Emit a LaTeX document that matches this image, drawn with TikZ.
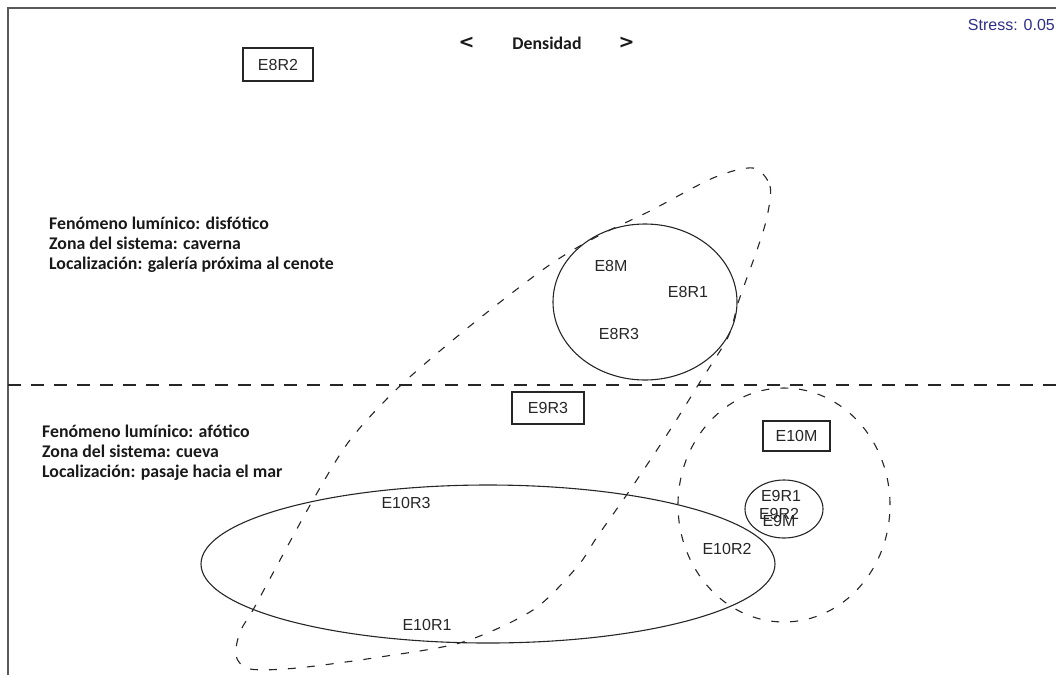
\documentclass[tikz,border=0pt]{standalone}
\usepackage{fontspec}
\setmainfont{Liberation Sans}
\newfontfamily\notefont{Carlito}
\newfontfamily\chevfont{DejaVu Sans}
\begin{document}
\begin{tikzpicture}[x=1pt,y=-1pt,
  ink/.style={draw=black!85},
  lbl/.style={font=\fontsize{16}{19}\selectfont, text=black!85, inner sep=0pt},
  boxlbl/.style={lbl, ink, line width=1.2pt},
  note/.style={font=\notefont\bfseries\fontsize{17.8}{20}\selectfont, text=black!90, anchor=base west, inner sep=0pt},
  chev/.style={font=\chevfont\bfseries\fontsize{19}{20}\selectfont, text=black!90, inner sep=0pt},
  hull/.style={ink, line width=1.1pt},
  dhull/.style={hull, dash pattern=on 8pt off 11pt},
  divider/.style={ink, line width=1.1pt, dash pattern=on 13pt off 10pt}]
\useasboundingbox (0,0) rectangle (1056,675);

% plot frame
\draw[black!65, line width=1.8pt] (8,675) -- (8,8) -- (1056,8);

% axis hint and stress value
\node[note, anchor=base] (dens) at (547,49) {Densidad};
\node[chev] (lt) at (466.5,43) {<};
\node[chev] (gt) at (626.5,43) {>};
\node[lbl, anchor=base east, text={rgb,255:red,45;green,45;blue,140}] (stress) at (1055,30) {Stress: 0.05};

% zone separator
\draw[divider] (8,385) -- (1056,385);

% group notes
\node[note] (z1a) at (49,229) {Fenómeno lumínico: disfótico};
\node[note] (z1b) at (49,249) {Zona del sistema: caverna};
\node[note] (z1c) at (49,269) {Localización: galería próxima al cenote};
\node[note] (z2a) at (42,437) {Fenómeno lumínico: afótico};
\node[note] (z2b) at (42,457) {Zona del sistema: cueva};
\node[note] (z2c) at (42,477) {Localización: pasaje hacia el mar};

% hulls
\draw[hull] (645,302) ellipse [x radius=92pt, y radius=78pt];
\draw[hull] (488,564) ellipse [x radius=287pt, y radius=79pt];
\draw[hull] (784,509) ellipse [x radius=39pt, y radius=29pt];
\draw[dhull] (784,505) ellipse [x radius=106pt, y radius=117pt];
\draw[dhull] plot[smooth cycle, tension=0.5] coordinates {
  (753,168) (770,186) (767,217) (757,250) (739,300) (728,337) (700,382)
  (670,430) (630,490) (597,537) (577,567) (533,610) (463,642) (380,657)
  (297,668) (250,669) (236,656) (240,632) (253,610) (273,573) (313,500)
  (350,440) (400,386) (470,326) (548,266) (598,236) (650,211) (713,178)};

% boxed samples
\node[boxlbl, minimum width=70pt, minimum height=33pt] (e8r2) at (278,64.5) {E8R2};
\node[boxlbl, minimum width=72pt, minimum height=32pt] (e9r3) at (548,408) {E9R3};
\node[boxlbl, minimum width=67pt, minimum height=30pt] (e10m) at (796.5,436) {E10M};

% sample labels
\node[lbl] (e8m) at (611,266) {E8M};
\node[lbl] (e8r1) at (688,292) {E8R1};
\node[lbl] (e8r3) at (619,334) {E8R3};
\node[lbl] (e9r1) at (781,496) {E9R1};
\node[lbl] (e9r2) at (779,514) {E9R2};
\node[lbl] (e9m) at (779,521) {E9M};
\node[lbl] (e10r3) at (406,503) {E10R3};
\node[lbl] (e10r2) at (727,549) {E10R2};
\node[lbl] (e10r1) at (427,625) {E10R1};
\end{tikzpicture}
\end{document}
